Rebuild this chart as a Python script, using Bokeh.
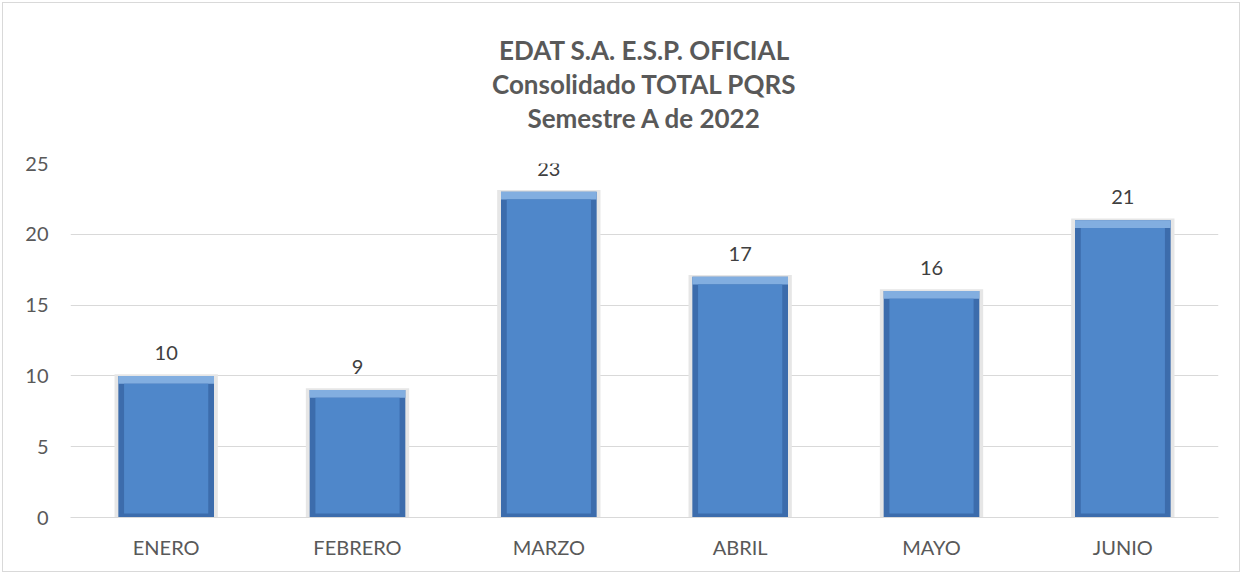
from bokeh.plotting import figure
from bokeh.models import ColumnDataSource, LabelSet, Range1d, FixedTicker, Title
from bokeh.core.properties import value
from bokeh.embed import file_html
from bokeh.resources import INLINE

months = ["ENERO", "FEBRERO", "MARZO", "ABRIL", "MAYO", "JUNIO"]
values = [10, 9, 23, 17, 16, 21]
y_ticks = [0, 5, 10, 15, 20, 25]
title_lines = ["EDAT S.A. E.S.P. OFICIAL", "Consolidado TOTAL PQRS", "Semestre A de 2022"]

FONT = "Lato"
GREY = "#595959"

src = ColumnDataSource(dict(
    m=months,
    v=values,
    vs=[v + 0.12 for v in values],
    vt=[v - 0.55 for v in values],
    vi=[v - 0.55 for v in values],
    lbl=[str(v) for v in values],
))

p = figure(x_range=months, y_range=Range1d(0, 25), width=1238, height=570,
           output_backend="svg", toolbar_location=None,
           min_border_left=67, min_border_right=23, min_border_bottom=56, min_border_top=10)

# spacer between title and plot frame
p.add_layout(Title(text=" ", text_font_size="2px", standoff=26), "above")
for line in reversed(title_lines):
    p.add_layout(Title(text=line, align="center", text_font=FONT,
                       text_font_size="26px", text_font_style="bold", text_color=GREY,
                       standoff=0), "above")
# spacer above the title
p.add_layout(Title(text=" ", text_font_size="2px", standoff=24), "above")

# soft shadow
p.vbar(x="m", top="vs", bottom=0, width=0.54, source=src, fill_color="#e6e6e6", line_color=None)
# dark outer bar (sides / bottom bevel)
p.vbar(x="m", top="v", bottom=0, width=0.5, source=src, fill_color="#3c6cac", line_color=None)
# light top bevel
p.vbar(x="m", top="v", bottom="vt", width=0.5, source=src, fill_color="#82aee0", line_color=None)
# main body
p.vbar(x="m", top="vi", bottom=0.28, width=0.44, source=src, fill_color="#4f87ca", line_color=None)

labels = LabelSet(x="m", y="v", text="lbl", source=src, text_align="center",
                  text_baseline="middle", y_offset=23, text_font=value(FONT),
                  text_font_size="20px", text_color="#404040")
p.add_layout(labels)

p.xgrid.grid_line_color = None
p.ygrid.grid_line_color = "#d9d9d9"
p.ygrid.grid_line_width = 1
p.yaxis.ticker = FixedTicker(ticks=y_ticks)
p.yaxis.axis_line_color = None
p.yaxis.major_tick_line_color = None
p.yaxis.minor_tick_line_color = None
p.yaxis.major_tick_out = 0
p.yaxis.minor_tick_out = 0
p.yaxis.major_label_standoff = 22
p.yaxis.major_label_text_font = FONT
p.yaxis.major_label_text_font_size = "20px"
p.yaxis.major_label_text_color = GREY

p.xaxis.axis_line_color = "#d9d9d9"
p.xaxis.major_tick_line_color = None
p.xaxis.minor_tick_line_color = None
p.xaxis.major_tick_out = 0
p.xaxis.minor_tick_out = 0
p.xaxis.major_label_standoff = 17
p.xaxis.major_label_text_font = FONT
p.xaxis.major_label_text_font_size = "20px"
p.xaxis.major_label_text_color = GREY

p.x_range.range_padding = 0.0
p.outline_line_color = None
p.styles = {"border": "1px solid #d9d9d9", "box-sizing": "border-box",
            "margin-left": "2px", "margin-top": "2px"}

open("out.html", "w").write(file_html(p, INLINE))
